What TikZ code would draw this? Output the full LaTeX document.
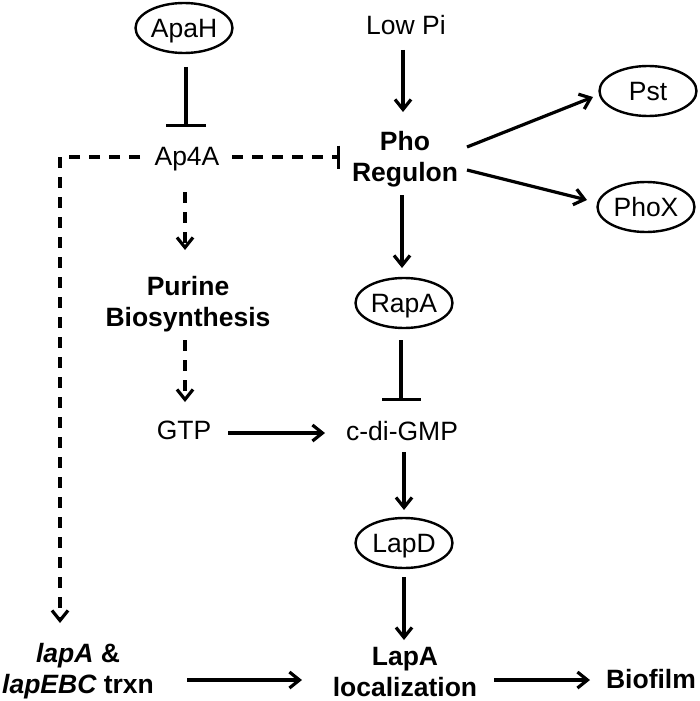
\documentclass[tikz,border=0pt]{standalone}
\usepackage{fontspec}
\setmainfont{Liberation Sans}
\usetikzlibrary{arrows.meta,shapes.geometric,calc}
\begin{document}
\begin{tikzpicture}[x=1pt,y=-1pt,
  every node/.style={font=\fontsize{26.5}{31}\selectfont, inner sep=0pt},
  txt/.style={text height=19pt, text depth=5.6pt},
  ml/.style={align=center, font=\fontsize{26.5}{31}\selectfont\bfseries},
  bld/.style={font=\fontsize{26.5}{31}\selectfont\bfseries},
  oval/.style={ellipse, draw, line width=2.4pt, minimum width=97pt, minimum height=50pt, text height=19pt, text depth=0pt},
  arr/.style={line width=3.2pt, -{Straight Barb[length=10pt,width=16pt]}},
  inh/.style={line width=3.2pt, -{Bar[width=#1]}},
  dsh/.style={dash pattern=on 11pt off 9pt}
]
\useasboundingbox (0,0) rectangle (700,701);
% ellipses
\node[oval] (apah) at (184,28) {ApaH};
\node[oval] (pst) at (648,91) {Pst};
\node[oval] (phox) at (646,207) {PhoX};
\node[oval] (rapa) at (404,303) {RapA};
\node[oval] (lapd) at (404,543) {LapD};
% text nodes
\node[txt] (lowpi) at (406,27.7) {Low Pi};
\node[txt] (ap4a) at (187,158.7) {Ap4A};
\node[txt] (gtp) at (184,432.7) {GTP};
\node[txt] (cdigmp) at (402,433.7) {c-di-GMP};
\node[txt,bld] (biofilm) at (651,681.7) {Biofilm};
\node[ml] (pho) at (405,158.8) {Pho\\Regulon};
\node[ml] (purine) at (188,303.8) {Purine\\Biosynthesis};
\node[ml] (lapa) at (78,670.8) {{\itshape lapA} \&\\{\itshape lapEBC} trxn};
\node[ml] (lapaloc) at (405,672) {LapA\\localization};
% connectors
\draw[inh=40pt] ($(apah)+(2,39)$) -- ($(ap4a)+(-1,-31.7)$);
\draw[arr] ($(lowpi)+(-3,22.3)$) -- ($(pho)+(-2,-46.8)$);
\draw[arr] ($(pho)+(62,-11.8)$) -- ($(pst)+(-55,6)$);
\draw[arr] ($(pho)+(62,11.2)$) -- ($(phox)+(-59,-7)$);
\draw[arr] ($(pho)+(-3,36.2)$) -- ($(rapa)+(-2,-35)$);
\draw[inh=23pt,dsh] ($(ap4a)+(45,-1.7)$) -- ($(pho)+(-65,-1.8)$);
\draw[arr,dsh] ($(ap4a)+(-47,-1.7)$) -| ($(lapa)+(-18,-47.8)$);
\draw[arr,dsh] ($(ap4a)+(-2,33.3)$) -- ($(purine)+(-3,-53.8)$);
\draw[arr,dsh] ($(purine)+(-3,36.2)$) -- ($(gtp)+(1,-30.7)$);
\draw[arr] ($(gtp)+(44,0.3)$) -- ($(cdigmp)+(-77,-0.7)$);
\draw[inh=39pt] ($(rapa)+(-3,37)$) -- ($(cdigmp)+(-1,-32.7)$);
\draw[arr] ($(cdigmp)+(2,18.3)$) -- ($(lapd)+(0,-33)$);
\draw[arr] ($(lapd)+(0,34)$) -- ($(lapaloc)+(-1,-32)$);
\draw[arr] ($(lapa)+(109,9.2)$) -- ($(lapaloc)+(-103,8)$);
\draw[arr] ($(lapaloc)+(89,8)$) -- ($(biofilm)+(-61,-1.7)$);
\end{tikzpicture}
\end{document}
